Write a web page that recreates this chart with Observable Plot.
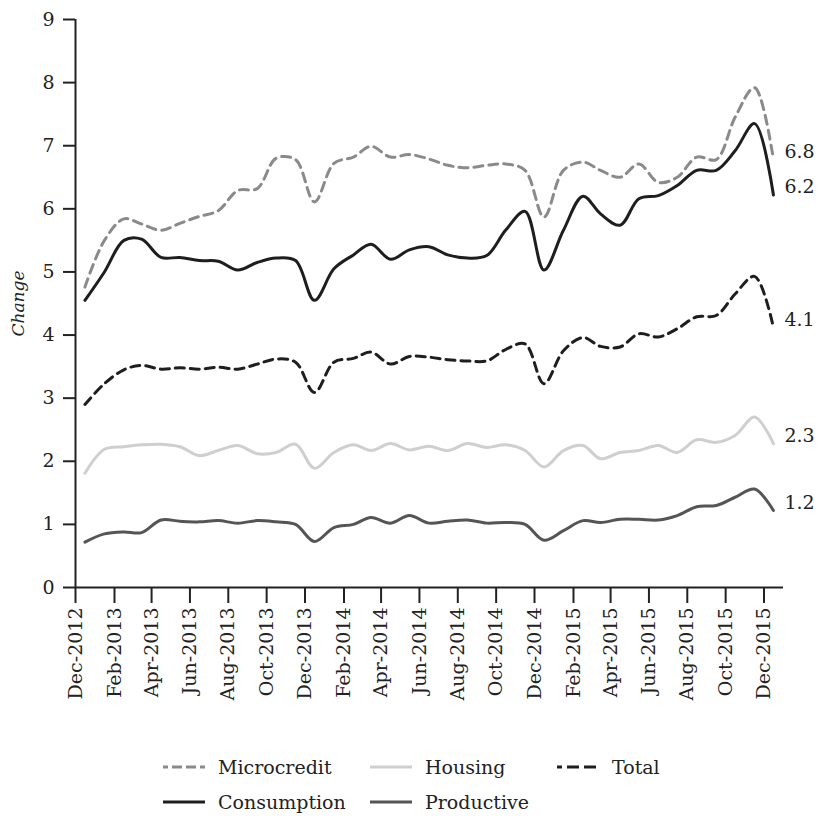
<!DOCTYPE html>
<html>
<head>
<meta charset="utf-8">
<script src="https://cdn.jsdelivr.net/npm/d3@7"></script>
<script src="https://cdn.jsdelivr.net/npm/@observablehq/plot@0.6"></script>
<style>
  html, body { margin: 0; padding: 0; background: #fff; }
  #chart { width: 818px; }
  #chart svg text { font-size: 19px; font-family: "DejaVu Serif", serif; }
  #chart svg .ylab text { font-size: 17px; font-style: italic; }
  .legend {
    font-family: "DejaVu Serif", serif; font-size: 19px; color: #222;
    display: grid; grid-template-columns: 207px 187px auto;
    grid-auto-rows: 35px; padding-left: 163px; margin-top: 29px;
  }
  .legend .item { display: flex; align-items: center; white-space: nowrap; }
  .legend svg { margin-right: 13px; flex: none; }
</style>
</head>
<body>
<div id="chart"></div>
<script>
const months = ["2012-12","2013-01","2013-02","2013-03","2013-04","2013-05","2013-06","2013-07","2013-08","2013-09","2013-10","2013-11","2013-12",
  "2014-01","2014-02","2014-03","2014-04","2014-05","2014-06","2014-07","2014-08","2014-09","2014-10","2014-11","2014-12",
  "2015-01","2015-02","2015-03","2015-04","2015-05","2015-06","2015-07","2015-08","2015-09","2015-10","2015-11","2015-12"];

const tickMonths = ["2012-12","2013-02","2013-04","2013-06","2013-08","2013-10","2013-12","2014-02","2014-04","2014-06","2014-08","2014-10","2014-12",
  "2015-02","2015-04","2015-06","2015-08","2015-10","2015-12"];

const yTicks = [0,1,2,3,4,5,6,7,8,9];

const microcredit = [4.76,5.50,5.84,5.76,5.66,5.77,5.88,5.97,6.29,6.32,6.80,6.78,6.11,6.72,6.82,6.99,6.82,6.86,6.79,6.69,6.65,6.69,6.71,6.61,5.87,6.61,6.74,6.61,6.50,6.71,6.42,6.50,6.82,6.78,7.45,7.92,6.78];
const housing = [1.81,2.19,2.23,2.26,2.27,2.23,2.09,2.17,2.25,2.12,2.14,2.27,1.89,2.14,2.26,2.17,2.28,2.18,2.24,2.17,2.28,2.22,2.26,2.17,1.91,2.17,2.25,2.04,2.14,2.17,2.25,2.14,2.34,2.30,2.41,2.70,2.28];
const total = [2.90,3.23,3.45,3.52,3.46,3.48,3.46,3.49,3.46,3.54,3.62,3.57,3.09,3.57,3.63,3.73,3.54,3.66,3.65,3.61,3.59,3.59,3.77,3.86,3.23,3.75,3.96,3.82,3.81,4.02,3.97,4.10,4.29,4.31,4.65,4.93,4.12];
const consumption = [4.55,5.00,5.50,5.52,5.23,5.23,5.18,5.17,5.03,5.15,5.22,5.18,4.55,5.05,5.27,5.44,5.20,5.35,5.40,5.27,5.22,5.26,5.66,5.96,5.03,5.66,6.20,5.92,5.74,6.16,6.21,6.37,6.61,6.61,6.92,7.35,6.22];
const productive = [0.72,0.85,0.88,0.87,1.07,1.05,1.04,1.06,1.02,1.06,1.04,1.00,0.73,0.95,1.00,1.11,1.02,1.14,1.02,1.05,1.07,1.02,1.03,1.00,0.75,0.90,1.06,1.03,1.08,1.08,1.07,1.14,1.28,1.30,1.43,1.56,1.22];

const seriesDefs = [
  {name: "Microcredit", values: microcredit, color: "#8a8a8a", dash: "9,6"},
  {name: "Housing", values: housing, color: "#cfcfcf", dash: null},
  {name: "Total", values: total, color: "#1e1e1e", dash: "9,6"},
  {name: "Consumption", values: consumption, color: "#1e1e1e", dash: null},
  {name: "Productive", values: productive, color: "#555555", dash: null}
];

const parseMonth = d3.utcParse("%Y-%m");
const midMonth = m => d3.utcDay.offset(parseMonth(m), 15);
const xDomain = [parseMonth("2012-12"), parseMonth("2016-01")];

const lineMarks = seriesDefs.map(s => {
  const data = months.map((m, i) => ({date: midMonth(m), value: s.values[i]}));
  return Plot.line(data, {x: "date", y: "value", curve: "catmull-rom", stroke: s.color, strokeWidth: 3, strokeDasharray: s.dash || undefined});
});

const endLabels = seriesDefs.map(s => ({
  date: midMonth(months[months.length - 1]),
  value: s.values[s.values.length - 1],
  label: d3.format(".1f")(s.values[s.values.length - 1])
}));

const chart = Plot.plot({
  width: 818, height: 720, marginTop: 19, marginLeft: 75, marginRight: 35, marginBottom: 133,
  style: {fontFamily: "DejaVu Serif, serif", fontSize: "19px", color: "#222", background: "#fff", overflow: "visible"},
  x: {type: "utc", domain: xDomain},
  y: {domain: [0, 9]},
  marks: [
    Plot.axisX({ticks: tickMonths.map(parseMonth), tickFormat: d3.utcFormat("%b-%Y"), tickRotate: -90, tickSize: 16, tickPadding: 4, strokeWidth: 2, label: null}),
    Plot.axisY({ticks: yTicks, tickSize: 12, tickPadding: 9, strokeWidth: 2, label: null}),
    Plot.ruleY([0], {strokeWidth: 2, stroke: "#222"}),
    Plot.ruleX([xDomain[0]], {strokeWidth: 2, stroke: "#222"}),
    ...lineMarks,
    Plot.text(endLabels, {x: "date", y: "value", text: "label", dx: 11, dy: -8, textAnchor: "start", fill: "#222"}),
    Plot.text(["Change"], {frameAnchor: "left", textAnchor: "middle", dx: -57, rotate: -90, fill: "#222", className: "ylab"})
  ]
});
document.getElementById("chart").appendChild(chart);

const legend = document.createElement("div");
legend.className = "legend";
["Microcredit", "Housing", "Total", "Consumption", "Productive"].forEach(name => {
  const s = seriesDefs.find(d => d.name === name);
  const item = document.createElement("div");
  item.className = "item";
  const dash = name === "Total" ? "5,5,12,5,12,5,5" : (s.dash ? "5,4,10,4,10,4,5" : "");
  item.innerHTML = `<svg width="42" height="10"><line x1="0" x2="42" y1="5" y2="5" stroke="${s.color}" stroke-width="3" ${dash ? `stroke-dasharray="${dash}"` : ""}/></svg><span>${name}</span>`;
  legend.appendChild(item);
});
document.getElementById("chart").appendChild(legend);
</script>
</body>
</html>
